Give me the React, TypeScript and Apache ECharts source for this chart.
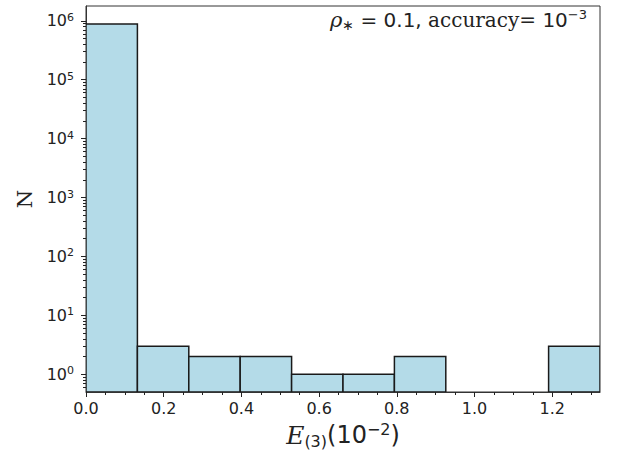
import React, { useEffect, useRef } from "react";
import * as echarts from "echarts";

// Histogram bin edges (x, in units of 10^-2) and counts per bin
const binEdges = [0, 0.1323, 0.2646, 0.3969, 0.5292, 0.6615, 0.7938, 0.9261, 1.0584, 1.1907, 1.323];
const counts = [880000, 3, 2, 2, 1, 1, 2, 0, 0, 3];

// Axis ranges and ticks
const xRange = [0, 1.323];
const xTicks = [0, 0.2, 0.4, 0.6, 0.8, 1.0, 1.2];
const xMinorStep = 0.05;
const yRange = [0.5, 1.78e6]; // raw counts (log axis)
const yTickExponents = [0, 1, 2, 3, 4, 5, 6];
const yMinorMultipliers = [2, 3, 4, 5, 6, 7, 8, 9];
const yMinorDecades = [-1, 0, 1, 2, 3, 4, 5];

const titleText = "{rho|ρ}{sub|∗}{sans| = 0.1, }{serif|accuracy= }{sans|10}{sup|−3}";
const xName = "{e|E}{sub|(3)}{n|(10}{sup|−2}{n|)}";
const yName = "N";

const SANS = "DejaVu Sans";
const SERIF = "DejaVu Serif";
const INK = "#222";

export default function App() {
  const ref = useRef<HTMLDivElement>(null);

  useEffect(() => {
    if (!ref.current) return;
    const chart = echarts.init(ref.current, null, { renderer: "svg" });

    const yMin = Math.log10(yRange[0]);
    const yMax = Math.log10(yRange[1]);

    const bars: number[][] = [];
    counts.forEach((c, i) => {
      if (c > 0) bars.push([binEdges[i], binEdges[i + 1], Math.log10(c)]);
    });

    const xMinor: number[] = [];
    for (let k = 1; k * xMinorStep <= xRange[1] + 1e-9; k++) {
      const v = +(k * xMinorStep).toFixed(4);
      if (!xTicks.some((t) => Math.abs(t - v) < 1e-9)) xMinor.push(v);
    }
    const yMinor: number[] = [];
    yMinorDecades.forEach((d) =>
      yMinorMultipliers.forEach((m) => {
        const v = Math.log10(m) + d;
        if (v > yMin + 1e-6 && v < yMax) yMinor.push(v);
      })
    );

    const tickLine = { color: INK, width: 1 };
    const nw = "normal";

    chart.setOption({
      animation: false,
      backgroundColor: "#fff",
      title: {
        text: titleText,
        right: 30,
        top: 8,
        padding: 0,
        textStyle: {
          fontWeight: nw,
          rich: {
            rho: { fontFamily: SERIF, fontStyle: "italic", fontWeight: nw, fontSize: 21, color: INK, lineHeight: 24 },
            sub: { fontFamily: SANS, fontWeight: nw, fontSize: 14, color: INK, verticalAlign: "bottom", lineHeight: 14 },
            sans: { fontFamily: SANS, fontWeight: nw, fontSize: 20, color: INK, lineHeight: 24 },
            serif: { fontFamily: SERIF, fontWeight: nw, fontSize: 20, color: INK, lineHeight: 24 },
            sup: { fontFamily: SANS, fontWeight: nw, fontSize: 13, color: INK, verticalAlign: "top", lineHeight: 15 },
          },
        },
      },
      grid: {
        left: 86,
        top: 6,
        right: 17,
        bottom: 65,
        show: true,
        borderColor: "#333",
        borderWidth: 1,
        backgroundColor: "transparent",
        outerBoundsMode: "none",
      },
      xAxis: [
        {
          type: "value",
          min: xRange[0],
          max: xRange[1],
          position: "bottom",
          axisLine: { show: true, onZero: false, lineStyle: { color: "#333", width: 1 } },
          axisTick: { show: true, length: 5, customValues: xTicks, lineStyle: tickLine },
          axisLabel: {
            customValues: xTicks,
            formatter: (v: number) => v.toFixed(1),
            fontFamily: SANS,
            fontSize: 16,
            color: INK,
            margin: 8,
          },
          splitLine: { show: false },
          name: xName,
          nameLocation: "middle",
          nameGap: 29,
          nameTextStyle: {
            rich: {
              e: { fontFamily: SERIF, fontStyle: "italic", fontSize: 25, color: INK, lineHeight: 28 },
              sub: { fontFamily: SANS, fontSize: 16, color: INK, verticalAlign: "bottom", lineHeight: 16 },
              n: { fontFamily: SANS, fontSize: 24, color: INK, lineHeight: 28 },
              sup: { fontFamily: SANS, fontSize: 16, color: INK, verticalAlign: "top", lineHeight: 17 },
            },
          },
        },
        {
          type: "value",
          min: xRange[0],
          max: xRange[1],
          position: "bottom",
          axisLine: { show: false, onZero: false },
          axisTick: { show: true, length: 3, customValues: xMinor, lineStyle: tickLine },
          axisLabel: { show: false },
          splitLine: { show: false },
        },
      ],
      yAxis: [
        {
          type: "value",
          min: yMin,
          max: yMax,
          position: "left",
          axisLine: { show: true, onZero: false, lineStyle: { color: "#333", width: 1 } },
          axisTick: { show: true, length: 5, customValues: yTickExponents, lineStyle: tickLine },
          axisLabel: {
            customValues: yTickExponents,
            formatter: (v: number) => `{b|10}{s|${Math.round(v)}}`,
            margin: 12,
            rich: {
              b: { fontFamily: SANS, fontSize: 16, color: INK, lineHeight: 18 },
              s: { fontFamily: SANS, fontSize: 11, color: INK, verticalAlign: "top", lineHeight: 13 },
            },
          },
          splitLine: { show: false },
          name: yName,
          nameLocation: "middle",
          nameRotate: 90,
          nameGap: 48,
          nameTextStyle: { fontFamily: SERIF, fontSize: 21, color: INK },
        },
        {
          type: "value",
          min: yMin,
          max: yMax,
          position: "left",
          axisLine: { show: false, onZero: false },
          axisTick: { show: true, length: 3, customValues: yMinor, lineStyle: tickLine },
          axisLabel: { show: false },
          splitLine: { show: false },
        },
      ],
      series: [
        {
          type: "custom",
          xAxisIndex: 0,
          yAxisIndex: 0,
          clip: true,
          encode: { x: [0, 1], y: 2 },
          data: bars,
          renderItem: (_params: any, api: any) => {
            const x0 = api.value(0);
            const x1 = api.value(1);
            const h = api.value(2);
            const tl = api.coord([x0, h]);
            const br = api.coord([x1, yMin]);
            return {
              type: "rect",
              shape: { x: tl[0], y: tl[1], width: br[0] - tl[0], height: br[1] - tl[1] },
              style: { fill: "#b4dbe8", stroke: "#1a1a1a", lineWidth: 1.5 },
            };
          },
        },
      ],
    });

    return () => chart.dispose();
  }, []);

  return (
    <div
      ref={ref}
      style={{ position: "absolute", left: 0, top: 0, width: 617, height: 457, background: "#fff" }}
    />
  );
}
